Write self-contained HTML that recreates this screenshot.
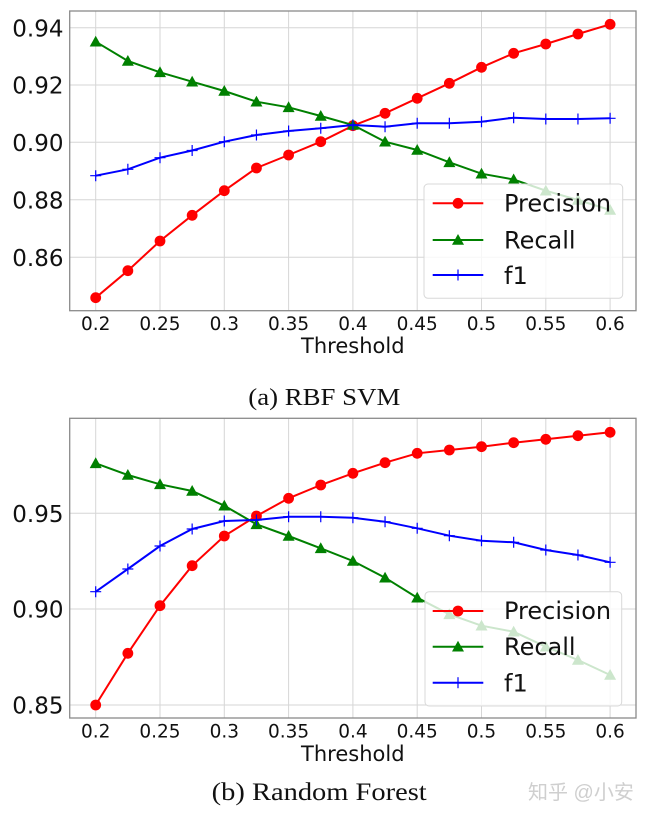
<!DOCTYPE html>
<html><head><meta charset="utf-8"><style>
html,body{margin:0;padding:0;background:#fff;}
svg{display:block;}
.t{font-family:"DejaVu Sans","Liberation Sans",sans-serif;fill:#111;}
.c{font-family:"Liberation Serif","Noto Serif CJK SC",serif;fill:#111;}
</style></head><body>
<svg width="649" height="820" viewBox="0 0 649 820" xmlns="http://www.w3.org/2000/svg">
<rect width="649" height="820" fill="#fff"/>

<!-- ============ TOP CHART ============ -->
<g stroke="#d6d6d6" stroke-width="1" fill="none">
  <path d="M95.7,11V311 M160,11V311 M224.3,11V311 M288.6,11V311 M352.9,11V311 M417.2,11V311 M481.5,11V311 M545.8,11V311 M610.1,11V311"/>
  <path d="M70,27.7H636 M70,85H636 M70,142.3H636 M70,199.7H636 M70,257.3H636"/>
</g>
<!-- precision -->
<polyline fill="none" stroke="#ff0000" stroke-width="2" points="95.7,297.7 127.85,270.7 160,241 192.15,215.3 224.3,190.7 256.45,168 288.6,155 320.75,141.7 352.9,125.7 385.05,113.3 417.2,98.3 449.35,83.3 481.5,67.3 513.65,53.3 545.8,44 577.95,34 610.1,24.3"/>
<g fill="#ff0000">
<circle cx="95.7" cy="297.7" r="5.4"/><circle cx="127.85" cy="270.7" r="5.4"/><circle cx="160" cy="241" r="5.4"/><circle cx="192.15" cy="215.3" r="5.4"/><circle cx="224.3" cy="190.7" r="5.4"/><circle cx="256.45" cy="168" r="5.4"/><circle cx="288.6" cy="155" r="5.4"/><circle cx="320.75" cy="141.7" r="5.4"/><circle cx="352.9" cy="125.7" r="5.4"/><circle cx="385.05" cy="113.3" r="5.4"/><circle cx="417.2" cy="98.3" r="5.4"/><circle cx="449.35" cy="83.3" r="5.4"/><circle cx="481.5" cy="67.3" r="5.4"/><circle cx="513.65" cy="53.3" r="5.4"/><circle cx="545.8" cy="44" r="5.4"/><circle cx="577.95" cy="34" r="5.4"/><circle cx="610.1" cy="24.3" r="5.4"/>
</g>
<!-- recall -->
<polyline fill="none" stroke="#008000" stroke-width="2" points="95.7,41.7 127.85,61 160,72.3 192.15,81.7 224.3,91 256.45,101.7 288.6,107.3 320.75,116 352.9,125 385.05,141.7 417.2,150 449.35,162.3 481.5,173.7 513.65,179.5 545.8,190.7 577.95,200 610.1,210"/>
<path fill="#008000" d="M95.7,35.7l6,10.8h-12z M127.85,55l6,10.8h-12z M160,66.3l6,10.8h-12z M192.15,75.7l6,10.8h-12z M224.3,85l6,10.8h-12z M256.45,95.7l6,10.8h-12z M288.6,101.3l6,10.8h-12z M320.75,110l6,10.8h-12z M352.9,119l6,10.8h-12z M385.05,135.7l6,10.8h-12z M417.2,144l6,10.8h-12z M449.35,156.3l6,10.8h-12z M481.5,167.7l6,10.8h-12z M513.65,173.5l6,10.8h-12z M545.8,184.7l6,10.8h-12z M577.95,194l6,10.8h-12z M610.1,204l6,10.8h-12z"/>
<!-- f1 -->
<polyline fill="none" stroke="#0000ff" stroke-width="2" points="95.7,175.7 127.85,169.3 160,157.7 192.15,150.5 224.3,141.7 256.45,135 288.6,131 320.75,128.3 352.9,125 385.05,126.7 417.2,123.3 449.35,123.3 481.5,121.7 513.65,117.7 545.8,119 577.95,119 610.1,118.3"/>
<path fill="none" stroke="#0000ff" stroke-width="1.2" d="M95.7,170.2v11M90.2,175.7h11 M127.85,163.8v11M122.35,169.3h11 M160,152.2v11M154.5,157.7h11 M192.15,145v11M186.65,150.5h11 M224.3,136.2v11M218.8,141.7h11 M256.45,129.5v11M250.95,135h11 M288.6,125.5v11M283.1,131h11 M320.75,122.8v11M315.25,128.3h11 M352.9,119.5v11M347.4,125h11 M385.05,121.2v11M379.55,126.7h11 M417.2,117.8v11M411.7,123.3h11 M449.35,117.8v11M443.85,123.3h11 M481.5,116.2v11M476,121.7h11 M513.65,112.2v11M508.15,117.7h11 M545.8,113.5v11M540.3,119h11 M577.95,113.5v11M572.45,119h11 M610.1,112.8v11M604.6,118.3h11"/>
<!-- spines -->
<rect x="69.7" y="11" width="566.3" height="299.7" fill="none" stroke="#8a8a8a" stroke-width="1.3"/>
<!-- legend -->
<rect x="424" y="184" width="198.7" height="114.3" rx="4" fill="#fff" fill-opacity="0.8" stroke="#d8d8d8" stroke-width="1"/>
<line x1="432.7" y1="203.3" x2="483.3" y2="203.3" stroke="#ff0000" stroke-width="2"/>
<circle cx="458" cy="203.3" r="5.4" fill="#ff0000"/>
<line x1="432.7" y1="240" x2="483.3" y2="240" stroke="#008000" stroke-width="2"/>
<path fill="#008000" d="M458,234l6,10.8h-12z"/>
<line x1="432.7" y1="275" x2="483.3" y2="275" stroke="#0000ff" stroke-width="2"/>
<line x1="458" y1="269.5" x2="458" y2="280.5" stroke="#0000ff" stroke-width="1.2"/>
<g class="t" font-size="24">
<text x="504" y="211.7">Precision</text>
<text x="504" y="248.3">Recall</text>
<text x="504" y="284">f1</text>
</g>
<!-- ticks -->
<g class="t" font-size="23" text-anchor="end">
<text x="63.5" y="36.4">0.94</text>
<text x="63.5" y="93.7">0.92</text>
<text x="63.5" y="151">0.90</text>
<text x="63.5" y="208.4">0.88</text>
<text x="63.5" y="266">0.86</text>
</g>
<g class="t" font-size="18.5" text-anchor="middle">
<text x="95.7" y="330">0.2</text>
<text x="160" y="330">0.25</text>
<text x="224.3" y="330">0.3</text>
<text x="288.6" y="330">0.35</text>
<text x="352.9" y="330">0.4</text>
<text x="417.2" y="330">0.45</text>
<text x="481.5" y="330">0.5</text>
<text x="545.8" y="330">0.55</text>
<text x="610.1" y="330">0.6</text>
</g>
<text class="t" x="352.8" y="353" font-size="21" text-anchor="middle">Threshold</text>
<text class="c" x="248.3" y="405" font-size="24" textLength="152" lengthAdjust="spacingAndGlyphs">(a) RBF SVM</text>

<!-- ============ BOTTOM CHART ============ -->
<g stroke="#d6d6d6" stroke-width="1" fill="none">
  <path d="M95.7,418V718 M160,418V718 M224.3,418V718 M288.6,418V718 M352.9,418V718 M417.2,418V718 M481.5,418V718 M545.8,418V718 M610.1,418V718"/>
  <path d="M70,513.3H636 M70,609H636 M70,705H636"/>
</g>
<polyline fill="none" stroke="#ff0000" stroke-width="2" points="95.7,705 127.85,653.3 160,605.7 192.15,565.7 224.3,536 256.45,516 288.6,498.3 320.75,485 352.9,473.3 385.05,462.7 417.2,453.3 449.35,450 481.5,446.7 513.65,442.7 545.8,439.3 577.95,435.7 610.1,432.3"/>
<g fill="#ff0000">
<circle cx="95.7" cy="705" r="5.4"/><circle cx="127.85" cy="653.3" r="5.4"/><circle cx="160" cy="605.7" r="5.4"/><circle cx="192.15" cy="565.7" r="5.4"/><circle cx="224.3" cy="536" r="5.4"/><circle cx="256.45" cy="516" r="5.4"/><circle cx="288.6" cy="498.3" r="5.4"/><circle cx="320.75" cy="485" r="5.4"/><circle cx="352.9" cy="473.3" r="5.4"/><circle cx="385.05" cy="462.7" r="5.4"/><circle cx="417.2" cy="453.3" r="5.4"/><circle cx="449.35" cy="450" r="5.4"/><circle cx="481.5" cy="446.7" r="5.4"/><circle cx="513.65" cy="442.7" r="5.4"/><circle cx="545.8" cy="439.3" r="5.4"/><circle cx="577.95" cy="435.7" r="5.4"/><circle cx="610.1" cy="432.3" r="5.4"/>
</g>
<polyline fill="none" stroke="#008000" stroke-width="2" points="95.7,463.3 127.85,475 160,484.3 192.15,491 224.3,505.7 256.45,524.3 288.6,536 320.75,548.3 352.9,561 385.05,577.7 417.2,597.7 449.35,614.3 481.5,625.7 513.65,631.7 545.8,646.7 577.95,660 610.1,675"/>
<path fill="#008000" d="M95.7,457.3l6,10.8h-12z M127.85,469l6,10.8h-12z M160,478.3l6,10.8h-12z M192.15,485l6,10.8h-12z M224.3,499.7l6,10.8h-12z M256.45,518.3l6,10.8h-12z M288.6,530l6,10.8h-12z M320.75,542.3l6,10.8h-12z M352.9,555l6,10.8h-12z M385.05,571.7l6,10.8h-12z M417.2,591.7l6,10.8h-12z M449.35,608.3l6,10.8h-12z M481.5,619.7l6,10.8h-12z M513.65,625.7l6,10.8h-12z M545.8,640.7l6,10.8h-12z M577.95,654l6,10.8h-12z M610.1,669l6,10.8h-12z"/>
<polyline fill="none" stroke="#0000ff" stroke-width="2" points="95.7,591.7 127.85,569 160,546 192.15,529 224.3,521 256.45,520 288.6,516.7 320.75,516.7 352.9,517.7 385.05,521.7 417.2,528.3 449.35,535.7 481.5,540.7 513.65,542.3 545.8,550 577.95,555 610.1,562.3"/>
<path fill="none" stroke="#0000ff" stroke-width="1.2" d="M95.7,586.2v11M90.2,591.7h11 M127.85,563.5v11M122.35,569h11 M160,540.5v11M154.5,546h11 M192.15,523.5v11M186.65,529h11 M224.3,515.5v11M218.8,521h11 M256.45,514.5v11M250.95,520h11 M288.6,511.2v11M283.1,516.7h11 M320.75,511.2v11M315.25,516.7h11 M352.9,512.2v11M347.4,517.7h11 M385.05,516.2v11M379.55,521.7h11 M417.2,522.8v11M411.7,528.3h11 M449.35,530.2v11M443.85,535.7h11 M481.5,535.2v11M476,540.7h11 M513.65,536.8v11M508.15,542.3h11 M545.8,544.5v11M540.3,550h11 M577.95,549.5v11M572.45,555h11 M610.1,556.8v11M604.6,562.3h11"/>
<rect x="69.7" y="418.3" width="566.3" height="299.7" fill="none" stroke="#8a8a8a" stroke-width="1.3"/>
<!-- legend -->
<rect x="425" y="591.7" width="196.7" height="114.3" rx="4" fill="#fff" fill-opacity="0.8" stroke="#d8d8d8" stroke-width="1"/>
<line x1="432.7" y1="611" x2="483.3" y2="611" stroke="#ff0000" stroke-width="2"/>
<circle cx="458" cy="611" r="5.4" fill="#ff0000"/>
<line x1="432.7" y1="646.7" x2="483.3" y2="646.7" stroke="#008000" stroke-width="2"/>
<path fill="#008000" d="M458,640.7l6,10.8h-12z"/>
<line x1="432.7" y1="682.7" x2="483.3" y2="682.7" stroke="#0000ff" stroke-width="2"/>
<line x1="458" y1="677.2" x2="458" y2="688.2" stroke="#0000ff" stroke-width="1.2"/>
<g class="t" font-size="24">
<text x="504" y="619">Precision</text>
<text x="504" y="655">Recall</text>
<text x="504" y="691.7">f1</text>
</g>
<g class="t" font-size="23" text-anchor="end">
<text x="63.5" y="522">0.95</text>
<text x="63.5" y="617.7">0.90</text>
<text x="63.5" y="713.7">0.85</text>
</g>
<g class="t" font-size="18.5" text-anchor="middle">
<text x="95.7" y="737.5">0.2</text>
<text x="160" y="737.5">0.25</text>
<text x="224.3" y="737.5">0.3</text>
<text x="288.6" y="737.5">0.35</text>
<text x="352.9" y="737.5">0.4</text>
<text x="417.2" y="737.5">0.45</text>
<text x="481.5" y="737.5">0.5</text>
<text x="545.8" y="737.5">0.55</text>
<text x="610.1" y="737.5">0.6</text>
</g>
<text class="t" x="352.8" y="761" font-size="21" text-anchor="middle">Threshold</text>
<text class="c" x="211.7" y="800" font-size="25" textLength="215" lengthAdjust="spacingAndGlyphs">(b) Random Forest</text>

<!-- watermark -->
<text x="528" y="799" font-size="20" fill="#cfcfcf" style="font-family:'Liberation Sans','Noto Sans CJK SC',sans-serif;">知乎 @小安</text>
</svg>
</body></html>
